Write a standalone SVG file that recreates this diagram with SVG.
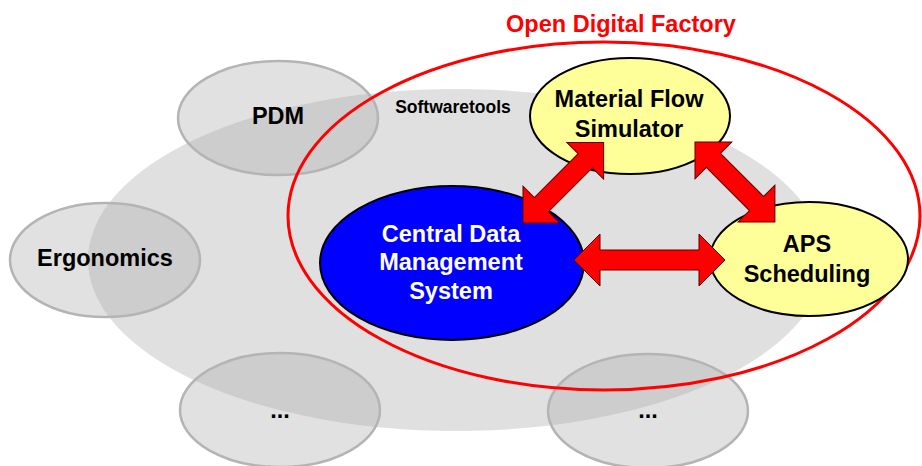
<svg xmlns="http://www.w3.org/2000/svg" width="922" height="466" viewBox="0 0 922 466">
<style>
  text { font-family: "Liberation Sans", Arial, sans-serif; font-weight: bold; text-anchor: middle; }
  .lbl { font-size: 23.5px; fill: #000; }
  .sat { fill: #a8a8a8; fill-opacity: 0.35; stroke: #b4b4b4; stroke-width: 2.5; }
  .yel { fill: #ffff99; stroke: #000; stroke-width: 2; }
  .arrow { fill: #ff0000; stroke: #5a0000; stroke-width: 1; stroke-linejoin: miter; }
</style>
<rect width="922" height="466" fill="#ffffff"/>

<g id="softwaretools">
  <ellipse cx="456" cy="260" rx="368" ry="171" fill="#e0e0e0"/>
  <text x="453" y="113" style="font-size:17.5px" fill="#000">Softwaretools</text>
</g>

<g id="pdm">
  <ellipse class="sat" cx="278" cy="118" rx="100" ry="57"/>
  <text class="lbl" x="278" y="124">PDM</text>
</g>
<g id="ergonomics">
  <ellipse class="sat" cx="105" cy="260" rx="95" ry="57"/>
  <text class="lbl" x="105" y="266">Ergonomics</text>
</g>
<g id="more-left">
  <ellipse class="sat" cx="280" cy="410" rx="100" ry="57"/>
  <text class="lbl" x="280" y="418">...</text>
</g>
<g id="more-right">
  <ellipse class="sat" cx="648" cy="411" rx="100" ry="57"/>
  <text class="lbl" x="648" y="418">...</text>
</g>

<g id="open-digital-factory">
  <ellipse cx="604" cy="216" rx="316" ry="174" fill="none" stroke="#ff0000" stroke-width="3"/>
  <text x="621" y="32" style="font-size:23.5px" fill="#ff0000">Open Digital Factory</text>
</g>

<g id="material-flow-simulator">
  <ellipse class="yel" cx="630" cy="116" rx="100" ry="58"/>
  <text class="lbl" x="629" y="107">Material Flow</text>
  <text class="lbl" x="629" y="137">Simulator</text>
</g>

<g id="aps-scheduling">
  <ellipse class="yel" cx="809" cy="259" rx="99" ry="57"/>
  <text class="lbl" x="807" y="252">APS</text>
  <text class="lbl" x="807" y="282">Scheduling</text>
</g>

<g id="central-data-management-system">
  <ellipse cx="452" cy="263" rx="132" ry="77" fill="#0000ff" stroke="#000" stroke-width="2"/>
  <text class="lbl" x="451" y="242" fill="#ffffff" style="fill:#ffffff">Central Data</text>
  <text class="lbl" x="451" y="270" style="fill:#ffffff">Management</text>
  <text class="lbl" x="451" y="299" style="fill:#ffffff">System</text>
</g>

<g id="connectors">
  <polygon class="arrow" transform="translate(574,260)" points="0,0 26,-26 26,-10 125,-10 125,-26 151,0 125,26 125,10 26,10 26,26"/>
  <polygon class="arrow" transform="translate(523,223) rotate(-45)" points="0,0 26,-26 26,-10 88,-10 88,-26 114,0 88,26 88,10 26,10 26,26"/>
  <polygon class="arrow" transform="translate(695,142) rotate(45)" points="0,0 26,-26 26,-10 87,-10 87,-26 113,0 87,26 87,10 26,10 26,26"/>
</g>
</svg>
